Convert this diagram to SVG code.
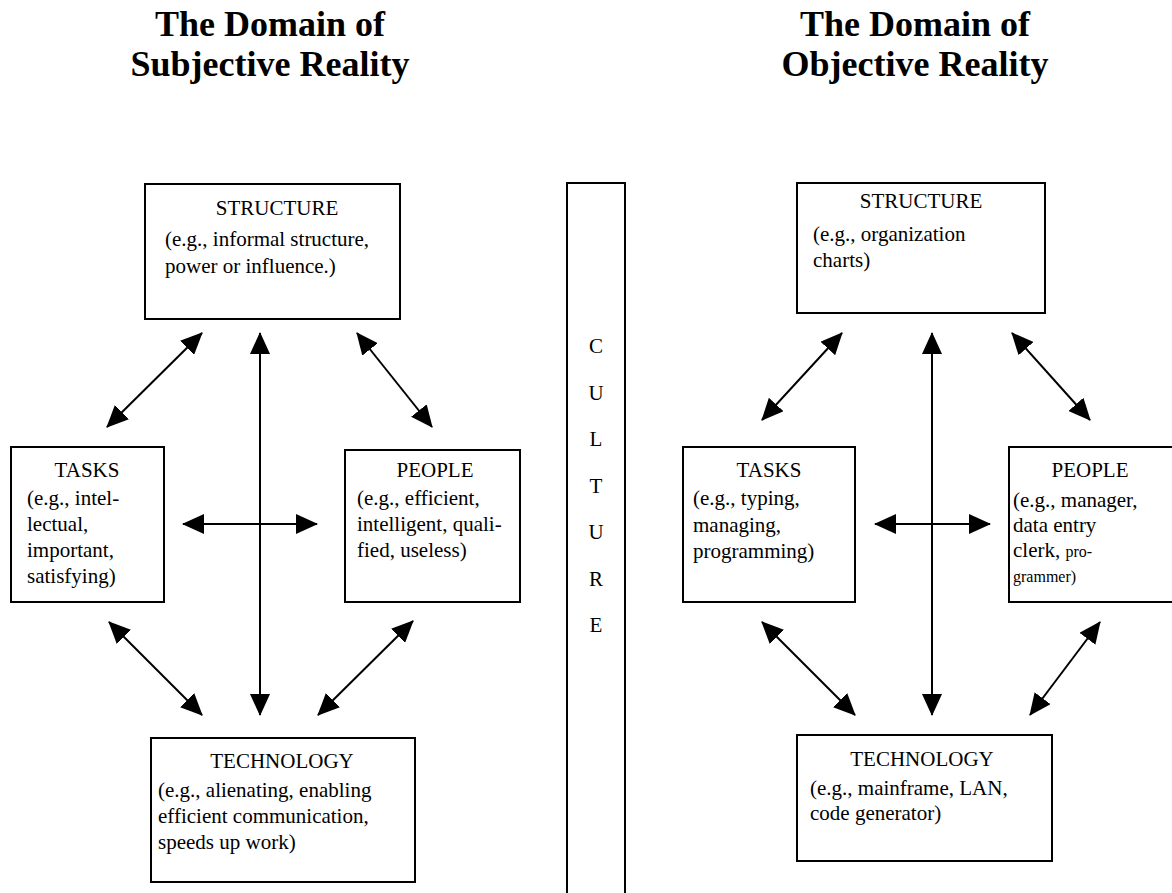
<svg xmlns="http://www.w3.org/2000/svg" width="1172" height="893" viewBox="0 0 1172 893">
<style>
.title{font-family:"Liberation Serif",serif;font-weight:bold;font-size:36px;text-anchor:middle;fill:#000}
.box{fill:#fff;stroke:#000;stroke-width:2}
.hd{font-family:"Liberation Serif",serif;font-size:21px;text-anchor:middle;fill:#000}
.tx{font-family:"Liberation Serif",serif;font-size:21px;fill:#000}
.sm{font-size:16px}
.ln{stroke:#000;stroke-width:2;fill:none;marker-start:url(#ah);marker-end:url(#ah)}
.cl{font-family:"Liberation Serif",serif;font-size:21px;text-anchor:middle;fill:#000}
</style>
<defs>
<marker id="ah" markerUnits="userSpaceOnUse" markerWidth="22" markerHeight="20" refX="21" refY="10" orient="auto-start-reverse">
<path d="M0,0 L22,10 L0,20 z" fill="#000"/>
</marker>
</defs>
<rect width="1172" height="893" fill="#fff"/>

<g id="title-left">
<text class="title" x="270" y="36">The Domain of</text>
<text class="title" x="270" y="76">Subjective Reality</text>
</g>
<g id="title-right">
<text class="title" x="915" y="36">The Domain of</text>
<text class="title" x="915" y="76">Objective Reality</text>
</g>

<g id="connectors">
<line class="ln" x1="260" y1="333" x2="260" y2="715"/>
<line class="ln" x1="183" y1="524" x2="317" y2="524"/>
<line class="ln" x1="202" y1="333" x2="107" y2="427"/>
<line class="ln" x1="357" y1="333" x2="432" y2="427"/>
<line class="ln" x1="109" y1="622" x2="202" y2="715"/>
<line class="ln" x1="413" y1="621" x2="318" y2="715"/>

<line class="ln" x1="932" y1="333" x2="932" y2="715"/>
<line class="ln" x1="875" y1="524" x2="990" y2="524"/>
<line class="ln" x1="842" y1="333" x2="762" y2="420"/>
<line class="ln" x1="1012" y1="333" x2="1090" y2="420"/>
<line class="ln" x1="762" y1="622" x2="855" y2="715"/>
<line class="ln" x1="1100" y1="622" x2="1030" y2="715"/>
</g>

<g id="s-structure">
<rect class="box" x="145" y="184" width="255" height="135"/>
<text class="hd" x="277" y="215">STRUCTURE</text>
<text class="tx" x="165" y="246">(e.g., informal structure,</text>
<text class="tx" x="165" y="273">power or influence.)</text>
</g>
<g id="s-tasks">
<rect class="box" x="11" y="447" width="153" height="155"/>
<text class="hd" x="87" y="477">TASKS</text>
<text class="tx" x="27" y="505">(e.g., intel-</text>
<text class="tx" x="27" y="531">lectual,</text>
<text class="tx" x="27" y="557">important,</text>
<text class="tx" x="27" y="583">satisfying)</text>
</g>
<g id="s-people">
<rect class="box" x="345" y="450" width="175" height="152"/>
<text class="hd" x="435" y="477">PEOPLE</text>
<text class="tx" x="357" y="505">(e.g., efficient,</text>
<text class="tx" x="357" y="531">intelligent, quali-</text>
<text class="tx" x="357" y="557">fied, useless)</text>
</g>
<g id="s-technology">
<rect class="box" x="151" y="738" width="264" height="144"/>
<text class="hd" x="282" y="768">TECHNOLOGY</text>
<text class="tx" x="158" y="797">(e.g., alienating, enabling</text>
<text class="tx" x="158" y="823">efficient communication,</text>
<text class="tx" x="158" y="849">speeds up work)</text>
</g>

<g id="culture">
<rect class="box" x="567" y="183" width="58" height="720"/>
<text class="cl" x="596" y="353">C</text>
<text class="cl" x="596" y="400">U</text>
<text class="cl" x="596" y="446">L</text>
<text class="cl" x="596" y="493">T</text>
<text class="cl" x="596" y="539">U</text>
<text class="cl" x="596" y="586">R</text>
<text class="cl" x="596" y="632">E</text>
</g>

<g id="o-structure">
<rect class="box" x="797" y="183" width="248" height="130"/>
<text class="hd" x="921" y="208">STRUCTURE</text>
<text class="tx" x="813" y="241">(e.g., organization</text>
<text class="tx" x="813" y="267">charts)</text>
</g>
<g id="o-tasks">
<rect class="box" x="683" y="447" width="172" height="155"/>
<text class="hd" x="769" y="477">TASKS</text>
<text class="tx" x="693" y="505">(e.g., typing,</text>
<text class="tx" x="693" y="532">managing,</text>
<text class="tx" x="693" y="558">programming)</text>
</g>
<g id="o-people">
<rect class="box" x="1009" y="447" width="170" height="155"/>
<text class="hd" x="1090" y="477">PEOPLE</text>
<text class="tx" x="1013" y="507">(e.g., manager,</text>
<text class="tx" x="1013" y="532">data entry</text>
<text class="tx" x="1013" y="557">clerk, <tspan class="sm">pro-</tspan></text>
<text class="tx sm" x="1013" y="582">grammer)</text>
</g>
<g id="o-technology">
<rect class="box" x="797" y="735" width="255" height="126"/>
<text class="hd" x="922" y="766">TECHNOLOGY</text>
<text class="tx" x="810" y="795">(e.g., mainframe, LAN,</text>
<text class="tx" x="810" y="820">code generator)</text>
</g>
</svg>
